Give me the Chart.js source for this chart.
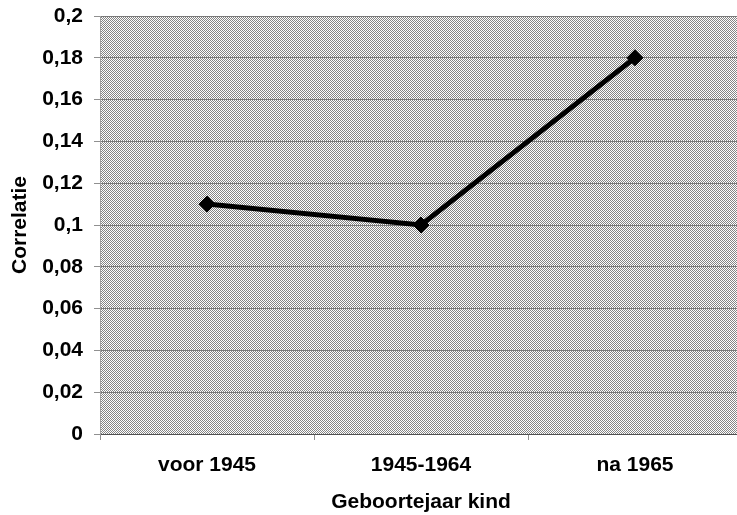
<!DOCTYPE html>
<html>
<head>
<meta charset="utf-8">
<script src="https://cdn.jsdelivr.net/npm/chart.js@4"></script>
<style>
  body { margin: 0; background: #fff; }
  #wrap { width: 737px; height: 515px; overflow: hidden; position: relative; }
  #wrap canvas { position: absolute; left: 0; top: 0; }
</style>
</head>
<body>
<div id="wrap"><canvas id="grafiek" width="751" height="515"></canvas></div>
<script>
// gegevens
const categorieen = ["voor 1945", "1945-1964", "na 1965"];
const correlatie = [0.11, 0.10, 0.18];
const yTicks = [0, 0.02, 0.04, 0.06, 0.08, 0.1, 0.12, 0.14, 0.16, 0.18, 0.2];

// grijs ruitpatroon voor de achtergrond van het plotgebied
function maakPatroon(ctx) {
    const c = document.createElement("canvas");
    c.width = 2;
    c.height = 2;
    const p = c.getContext("2d");
    p.fillStyle = "#ffffff";
    p.fillRect(0, 0, 2, 2);
    p.fillStyle = "#858585";
    p.fillRect(0, 0, 1, 1);
    p.fillRect(1, 1, 1, 1);
    return ctx.createPattern(c, "repeat");
}

const achtergrond = {
    id: "achtergrond",
    beforeDraw(chart) {
        const { ctx, chartArea: a } = chart;
        ctx.save();
        ctx.fillStyle = maakPatroon(ctx);
        ctx.fillRect(a.left, a.top, a.right - a.left, a.bottom - a.top);
        ctx.restore();
    }
};

const font = { family: "'Liberation Sans', Arial, sans-serif", size: 21, weight: "bold" };

new Chart(document.getElementById("grafiek").getContext("2d"), {
    type: "line",
    data: {
        labels: categorieen,
        datasets: [{
            label: "Correlatie",
            data: correlatie,
            borderColor: "#000",
            backgroundColor: "#000",
            borderWidth: 5,
            tension: 0,
            pointStyle: "rectRot",
            pointRadius: 8,
            pointBorderWidth: 1,
            pointBackgroundColor: "#000",
            pointBorderColor: "#000"
        }]
    },
    options: {
        responsive: false,
        animation: false,
        layout: { padding: { top: 16, left: 0, right: 0, bottom: 0 } },
        plugins: { legend: { display: false }, tooltip: { enabled: false } },
        scales: {
            x: {
                offset: true,
                grid: { offset: true, drawOnChartArea: false, drawTicks: true, tickLength: 6, tickColor: "#909090" },
                border: { color: "#505050", width: 1 },
                ticks: { color: "#000", font: font, padding: 13, maxRotation: 0 },
                title: { display: true, text: "Geboortejaar kind", color: "#000", font: font, padding: { top: 0, bottom: 0 } },
                afterFit(s) {
                    s.height = 81;
                    s.paddingLeft = 0;
                    s.paddingRight = 0;
                }
            },
            y: {
                min: 0,
                max: 0.2,
                afterBuildTicks(s) { s.ticks = yTicks.map(v => ({ value: v })); },
                grid: { color: "#7a7a7a", lineWidth: 1, tickLength: 6, tickColor: "#909090" },
                border: { color: "#a0a0a0", width: 1 },
                ticks: {
                    color: "#000",
                    font: font,
                    padding: 11,
                    callback: v => String(Number(v.toFixed(2))).replace(".", ",")
                },
                title: { display: true, text: "Correlatie", color: "#000", font: font, padding: { top: 8, bottom: 0 } },
                afterFit(s) {
                    s.width = 100;
                    s.paddingTop = 0;
                    s.paddingBottom = 0;
                }
            }
        }
    },
    plugins: [achtergrond]
});
</script>
</body>
</html>
